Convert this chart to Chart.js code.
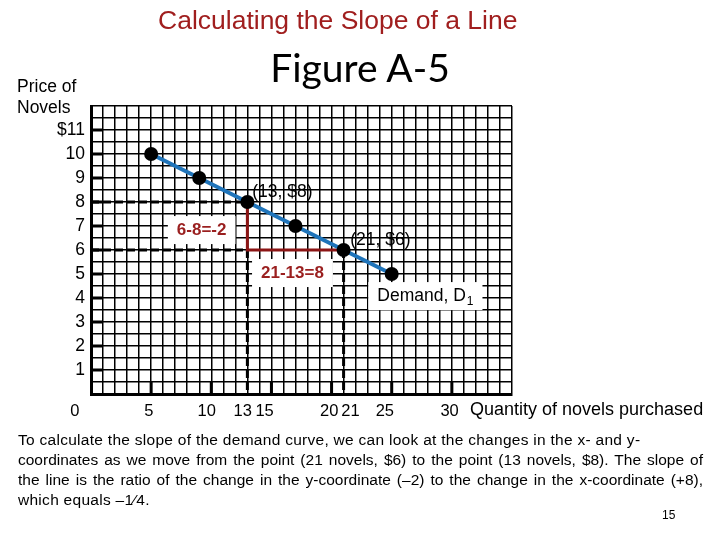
<!DOCTYPE html>
<html>
<head>
<meta charset="utf-8">
<script src="https://cdn.jsdelivr.net/npm/chart.js@4.4.1/dist/chart.umd.min.js"></script>
<style>
  html, body { margin: 0; padding: 0; background: #fff; }
  #wrap { position: relative; width: 720px; height: 540px; overflow: hidden; font-family: Arial, "Liberation Sans", sans-serif; }
  #chart { position: absolute; left: 0; top: 0; }
  .t { position: absolute; white-space: nowrap; color: #000; }
  #title { left: 158px; top: 5px; font-size: 26.5px; color: #a01e1e; }
  #fig { left: 0; width: 720px; text-align: center; top: 44px; font-size: 39px; font-family: Lato, "Open Sans", sans-serif; }
  #ytitle { left: 17px; top: 76px; font-size: 17.5px; line-height: 21px; }
  #xtitle { left: 470px; top: 399px; font-size: 18px; }
  #para { position: absolute; left: 18px; top: 430px; width: 685px; font-size: 15.5px; line-height: 20px; letter-spacing: 0.28px; }
  #para div { white-space: nowrap; }
  #para .j { text-align: justify; text-align-last: justify; white-space: normal; letter-spacing: 0; }
  #page { left: 662px; top: 508px; font-size: 12px; }
</style>
</head>
<body>
<div id="wrap">
  <canvas id="chart" width="720" height="540"></canvas>
  <div class="t" id="title">Calculating the Slope of a Line</div>
  <div class="t" id="fig">Figure A-5</div>
  <div class="t" id="ytitle">Price of<br>Novels</div>
  <div class="t" id="xtitle">Quantity of novels purchased</div>
  <div id="para">
    <div>To calculate the slope of the demand curve, we can look at the changes in the x- and y-</div>
    <div class="j">coordinates as we move from the point (21 novels, $6) to the point (13 novels, $8). The slope of</div>
    <div class="j">the line is the ratio of the change in the y-coordinate (–2) to the change in the x-coordinate (+8),</div>
    <div>which equals –1⁄4.</div>
  </div>
  <div class="t" id="page">15</div>
</div>
<script>
// demand curve points (novels, price)
const quantity = [5, 9, 13, 17, 21, 25];
const price = [10, 9, 8, 7, 6, 5];

// the two points used for the slope
const pointA = { x: 13, y: 8 };
const pointB = { x: 21, y: 6 };

// axis labels
const xTickValues = [0, 5, 10, 13, 15, 20, 21, 25, 30];
const yTickValues = [1, 2, 3, 4, 5, 6, 7, 8, 9, 10, 11];
const xMajorTicks = [5, 10, 15, 20, 25, 30];
const xMax = 35;
const yMax = 12;

// the x labels in the figure sit a little off their values; pad with spaces
// (negative = shift left, positive = shift right, in spaces)
const xLabelNudge = { 0: -7, 5: -1, 10: -2, 13: -2, 15: -3, 20: -1, 21: 3, 25: -3, 30: -1 };

// text placed on the chart, in data units
const notes = [
  { text: '(13, $8)', x: 13.4, y: 8.4, align: 'left', color: '#000', bold: false, box: false },
  { text: '6-8=-2', x: 9.2, y: 6.83, align: 'center', color: '#9a1f1f', bold: true, box: true },
  { text: '(21, $6)', x: 21.55, y: 6.4, align: 'left', color: '#000', bold: false, box: false },
  { text: '21-13=8', x: 16.75, y: 5.04, align: 'center', color: '#9a1f1f', bold: true, box: true },
  { text: 'Demand, D', sub: '1', x: 23.8, y: 4.08, align: 'left', color: '#000', bold: false, box: true }
];

const demand = quantity.map((q, i) => ({ x: q, y: price[i] }));

const guide = (pts) => ({
  data: pts,
  showLine: true,
  borderColor: '#000',
  borderWidth: 3,
  borderDash: [8, 4],
  pointRadius: 0,
  fill: false
});

const pad = (label, n) => n < 0 ? label + ' '.repeat(-n) : ' '.repeat(n || 0) + label;

const innerTicks = {
  id: 'innerTicks',
  beforeDatasetsDraw(chart) {
    const { ctx, scales: { x, y } } = chart;
    ctx.save();
    ctx.strokeStyle = '#000';
    ctx.lineWidth = 3;
    ctx.beginPath();
    yTickValues.forEach(v => {
      const py = y.getPixelForValue(v);
      ctx.moveTo(x.getPixelForValue(0), py);
      ctx.lineTo(x.getPixelForValue(1), py);
    });
    xMajorTicks.forEach(v => {
      const px = x.getPixelForValue(v);
      ctx.moveTo(px, y.getPixelForValue(0));
      ctx.lineTo(px, y.getPixelForValue(0.5));
    });
    ctx.stroke();
    ctx.restore();
  }
};

const notesPlugin = {
  id: 'notes',
  afterDatasetsDraw(chart) {
    const { ctx, scales: { x, y } } = chart;
    const mainFont = n => (n.bold ? 'bold 17px' : '17.5px') + ' Arial, "Liberation Sans", sans-serif';
    const subFont = '12px Arial, "Liberation Sans", sans-serif';
    ctx.save();
    ctx.textBaseline = 'middle';
    ctx.textAlign = 'left';
    notes.forEach(n => {
      const px = x.getPixelForValue(n.x);
      const py = y.getPixelForValue(n.y);
      ctx.font = mainFont(n);
      const mainW = ctx.measureText(n.text).width;
      let subW = 0;
      if (n.sub) {
        ctx.font = subFont;
        subW = ctx.measureText(n.sub).width + 1;
      }
      const w = mainW + subW;
      const left = n.align === 'center' ? px - w / 2 : px;
      if (n.box) {
        ctx.fillStyle = '#fff';
        ctx.fillRect(left - 9, py - 14, w + 18, 28);
      }
      ctx.fillStyle = n.color;
      ctx.font = mainFont(n);
      ctx.fillText(n.text, left, py);
      if (n.sub) {
        ctx.font = subFont;
        ctx.fillText(n.sub, left + mainW + 1, py + 6);
      }
    });
    ctx.restore();
  }
};

new Chart(document.getElementById('chart'), {
  type: 'scatter',
  data: {
    datasets: [
      {
        data: demand,
        showLine: true,
        borderColor: '#1f74ba',
        borderWidth: 4,
        pointRadius: 7,
        pointBackgroundColor: '#000',
        pointBorderColor: '#000',
        pointBorderWidth: 0,
        fill: false
      },
      {
        data: [pointA, { x: pointA.x, y: pointB.y }, pointB],
        showLine: true,
        borderColor: '#8c1515',
        borderWidth: 3,
        pointRadius: 0,
        fill: false
      },
      guide([{ x: 0, y: pointA.y }, pointA]),
      guide([{ x: 0, y: pointB.y }, { x: pointA.x, y: pointB.y }]),
      guide([{ x: pointA.x, y: pointB.y }, { x: pointA.x, y: 0 }]),
      guide([pointB, { x: pointB.x, y: 0 }])
    ]
  },
  options: {
    responsive: false,
    animation: false,
    devicePixelRatio: 1,
    layout: { padding: { top: 106, right: 208, bottom: 116, left: 0 } },
    plugins: {
      legend: { display: false },
      tooltip: { enabled: false }
    },
    scales: {
      x: {
        type: 'linear',
        min: 0,
        max: xMax,
        afterFit: s => { s.height = 30; },
        grid: { color: '#000', lineWidth: 1.5, drawTicks: false },
        border: { color: '#000', width: 3 },
        ticks: {
          stepSize: 1,
          autoSkip: false,
          maxRotation: 0,
          padding: 8,
          color: '#000',
          font: { size: 16.5, family: 'Arial, "Liberation Sans", sans-serif' },
          callback: v => xTickValues.includes(v) ? pad(String(v), xLabelNudge[v]) : ''
        }
      },
      y: {
        type: 'linear',
        min: 0,
        max: yMax,
        afterFit: s => { s.width = 91; },
        grid: { color: '#000', lineWidth: 1.5, drawTicks: false },
        border: { color: '#000', width: 3 },
        ticks: {
          stepSize: 0.5,
          autoSkip: false,
          padding: 6,
          color: '#000',
          font: { size: 17.5, family: 'Arial, "Liberation Sans", sans-serif' },
          callback: v => yTickValues.includes(v) ? (v === 11 ? '$' + v : String(v)) : ''
        }
      }
    }
  },
  plugins: [innerTicks, notesPlugin]
});
</script>
</body>
</html>
